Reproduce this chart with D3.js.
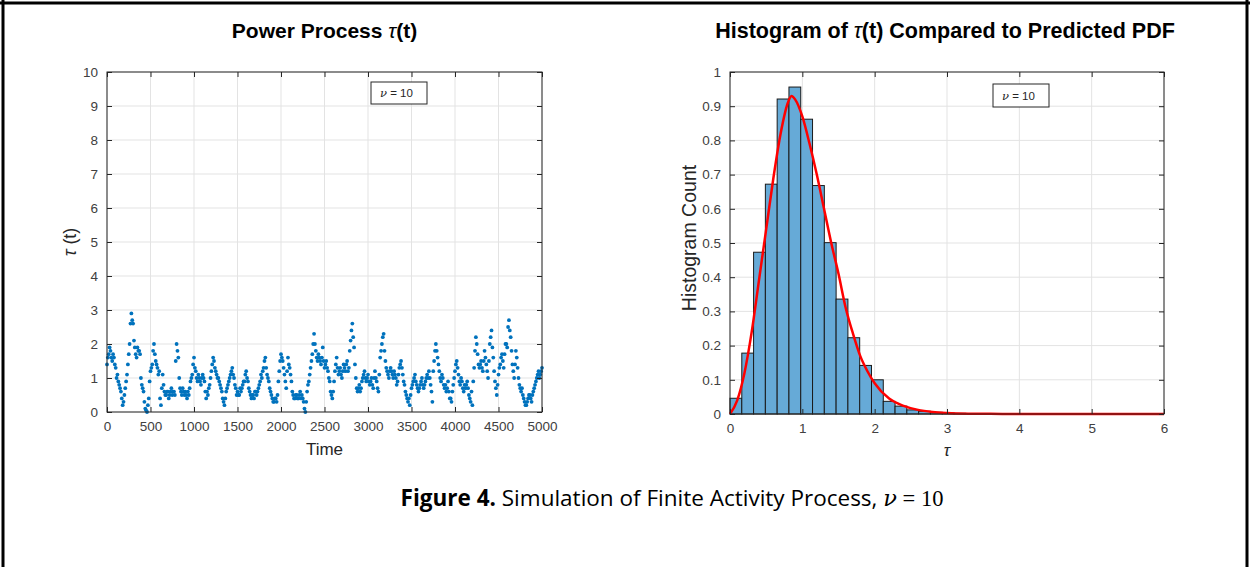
<!DOCTYPE html>
<html>
<head>
<meta charset="utf-8">
<script src="https://cdn.jsdelivr.net/npm/d3@7"></script>
<style>
  body { margin: 0; background: #fff; }
  text { font-family: "Liberation Sans", Arial, sans-serif; }
  .tick text { fill: #404040; font-size: 13.5px; }
  .tick line { stroke: #262626; }
  .domain { stroke: none; }
</style>
</head>
<body>
<script>
// Left panel: simulated power process, read every 20 time steps
var timeStep = 20;
var tauSeries = [
  1.4, 1.7, 1.8, 1.5, 1.6, 1.3, 1.1, 0.8, 0.6, 0.2,
  0.5, 0.9, 1.4, 2.0, 2.9, 2.6, 1.9, 1.6, 1.8, 1.7,
  0.8, 0.6, 0.1, 0.0, 0.4, 1.2, 1.4, 2.0, 1.5, 1.3,
  1.2, 0.2, 1.1, 0.6, 0.5, 0.6, 0.5, 0.7, 0.6, 0.5,
  2.0, 1.6, 0.7, 0.5, 0.6, 0.6, 0.4, 0.5, 0.9, 1.1,
  1.6, 1.2, 0.9, 1.0, 0.8, 1.1, 0.9, 0.4, 0.5, 0.8,
  1.2, 1.6, 1.3, 1.1, 1.0, 0.8, 0.6, 0.3, 0.4, 0.7,
  0.9, 1.1, 1.3, 1.0, 0.7, 0.6, 0.5, 0.6, 0.8, 0.9,
  1.2, 0.9, 0.6, 0.4, 0.5, 0.6, 0.5, 0.7, 0.9, 1.0,
  1.3, 1.6, 1.1, 0.9, 0.6, 0.4, 0.3, 0.4, 0.5, 1.2,
  1.7, 1.5, 1.1, 0.7, 1.6, 1.3, 0.9, 0.5, 0.4, 0.5,
  0.4, 0.6, 0.5, 0.3, 0.0, 0.6, 0.9, 1.3, 1.7, 2.3,
  1.8, 1.5, 1.6, 1.4, 1.9, 1.3, 1.5, 1.2, 0.9, 0.5,
  0.6, 1.2, 1.6, 1.1, 1.3, 1.0, 1.4, 1.2, 1.5, 1.3,
  2.1, 2.6, 1.9, 1.0, 0.6, 0.8, 0.7, 1.0, 1.2, 0.9,
  1.1, 0.8, 1.0, 0.7, 1.2, 0.9, 0.6, 1.6, 2.0, 2.3,
  1.5, 1.2, 1.0, 1.3, 1.1, 1.2, 1.0, 0.9, 1.3, 1.5,
  1.1, 0.8, 0.5, 0.3, 0.2, 0.7, 0.9, 1.1, 0.8, 0.6,
  0.8, 1.0, 0.7, 0.9, 1.1, 1.2, 0.8, 0.3, 1.5, 2.0,
  1.6, 1.2, 0.9, 1.0, 0.7, 0.6, 0.9, 0.4, 0.3, 0.8,
  1.2, 1.5, 1.1, 0.8, 0.9, 0.6, 0.7, 0.9, 0.5, 0.3,
  0.2, 1.3, 2.2, 1.7, 1.3, 1.5, 1.2, 1.8, 1.4, 1.0,
  2.0, 2.4, 1.6, 0.9, 0.5, 1.1, 1.4, 1.7, 1.3, 2.0,
  1.9, 2.7, 2.2, 1.4, 1.0, 1.8, 1.3, 0.8, 0.6, 0.5,
  0.3, 0.2, 0.4, 0.5, 0.3, 0.6, 0.8, 1.0, 1.2, 1.1,
  1.3
];
// readings in between, at t = 10, 30, 50 ...
var tauSeriesMid = [
  1.6, 1.9, 1.6, 1.7, 1.4, 1.0, 0.9, 0.7, 0.4, 0.3,
  0.7, 1.1, 1.7, 2.6, 2.7, 2.1, 1.7, 1.9, 1.8, 1.0,
  0.7, 0.3, 0.05, 0.2, 0.9, 1.3, 1.8, 1.7, 1.4, 1.1,
  0.4, 0.7, 0.8, 0.5, 0.6, 0.4, 0.6, 0.5, 0.6, 1.5,
  1.8, 1.0, 0.6, 0.7, 0.5, 0.5, 0.6, 0.7, 1.0, 1.4,
  1.3, 1.0, 1.1, 0.9, 1.0, 1.0, 0.6, 0.6, 0.7, 1.0,
  1.4, 1.5, 1.2, 1.0, 0.9, 0.7, 0.4, 0.2, 0.6, 0.8,
  1.0, 1.2, 1.1, 0.8, 0.5, 0.5, 0.7, 0.7, 0.9, 1.1,
  1.0, 0.7, 0.5, 0.5, 0.4, 0.6, 0.6, 0.8, 1.1, 1.2,
  1.5, 1.3, 1.0, 0.7, 0.5, 0.3, 0.4, 0.3, 0.9, 1.5,
  1.6, 1.3, 0.9, 1.2, 1.4, 1.1, 0.6, 0.4, 0.5, 0.4,
  0.5, 0.4, 0.4, 0.1, 0.3, 0.8, 1.1, 1.5, 2.0, 2.0,
  1.6, 1.7, 1.5, 1.6, 1.5, 1.4, 1.3, 1.0, 0.6, 0.4,
  0.9, 1.4, 1.3, 1.2, 1.1, 1.2, 1.3, 1.4, 1.2, 1.8,
  2.4, 2.2, 1.4, 0.7, 0.7, 0.6, 0.9, 1.1, 1.0, 1.0,
  0.9, 0.9, 0.8, 1.0, 1.0, 0.7, 1.1, 1.8, 2.2, 1.8,
  1.3, 1.1, 1.2, 1.2, 1.0, 1.1, 0.8, 1.1, 1.4, 1.3,
  0.9, 0.6, 0.4, 0.4, 0.5, 0.8, 1.0, 0.9, 0.7, 0.7,
  0.9, 0.8, 0.8, 1.0, 1.0, 1.0, 0.6, 1.2, 1.8, 1.8,
  1.4, 1.0, 1.1, 0.8, 0.8, 0.7, 0.6, 0.4, 0.6, 1.0,
  1.4, 1.3, 0.9, 1.0, 0.7, 0.8, 0.8, 0.7, 0.4, 0.6,
  0.9, 1.8, 2.0, 1.4, 1.4, 1.3, 1.5, 1.6, 1.2, 1.5,
  2.2, 1.9, 1.2, 0.7, 0.8, 1.3, 1.6, 1.5, 1.7, 2.0,
  2.5, 2.4, 1.8, 1.2, 1.4, 1.6, 1.0, 0.7, 0.7, 0.4,
  0.2, 0.3, 0.5, 0.4, 0.5, 0.7, 0.9, 1.1, 1.0, 1.2
];
var timeTicks = [0, 500, 1000, 1500, 2000, 2500, 3000, 3500, 4000, 4500, 5000];
var tauTicks = [0, 1, 2, 3, 4, 5, 6, 7, 8, 9, 10];

// Right panel: normalised histogram and predicted pdf
var binEdges = [0, 0.163, 0.326, 0.489, 0.652, 0.815, 0.978, 1.141, 1.304, 1.467,
  1.630, 1.793, 1.956, 2.119, 2.282, 2.445, 2.608, 2.771, 2.934, 3.097, 3.26];
var binHeights = [0.046, 0.178, 0.473, 0.672, 0.921, 0.956, 0.862, 0.668, 0.501, 0.336,
  0.223, 0.142, 0.100, 0.037, 0.023, 0.012, 0.008, 0.005, 0.003, 0.002];
var pdfTau = [0, 0.1, 0.2, 0.3, 0.4, 0.5, 0.6, 0.7, 0.8, 0.85, 0.9, 1.0, 1.1, 1.2, 1.3,
  1.4, 1.5, 1.6, 1.7, 1.8, 1.9, 2.0, 2.2, 2.4, 2.6, 2.8, 3.0, 3.3, 3.6, 4, 5, 6];
var pdfValue = [0, 0.04, 0.12, 0.24, 0.39, 0.54, 0.69, 0.82, 0.91, 0.93, 0.92, 0.87, 0.79,
  0.70, 0.60, 0.50, 0.41, 0.31, 0.235, 0.17, 0.125, 0.09, 0.045, 0.024, 0.012, 0.006,
  0.003, 0.001, 0.0004, 0, 0, 0];
var histXTicks = [0, 1, 2, 3, 4, 5, 6];
var histYTicks = [0, 0.1, 0.2, 0.3, 0.4, 0.5, 0.6, 0.7, 0.8, 0.9, 1];

var W = 1250, H = 567;
var svg = d3.select("body").append("svg")
    .attr("width", W)
    .attr("height", H);

svg.append("rect").attr("width", W).attr("height", H).attr("fill", "#fff");

// light grid behind the data
function drawGrid(g, x, y, xt, yt) {
    var x0 = x.range()[0], x1 = x.range()[1];
    var y0 = y.range()[0], y1 = y.range()[1];

    g.append("g").selectAll("line").data(xt).enter().append("line")
        .attr("x1", function (d) { return x(d); })
        .attr("x2", function (d) { return x(d); })
        .attr("y1", y0).attr("y2", y1)
        .attr("stroke", "#e3e3e3");
    g.append("g").selectAll("line").data(yt).enter().append("line")
        .attr("y1", function (d) { return y(d); })
        .attr("y2", function (d) { return y(d); })
        .attr("x1", x0).attr("x2", x1)
        .attr("stroke", "#e3e3e3");
}

// box with inward ticks on all four sides (matlab "box on")
function drawAxes(g, x, y, xt, yt, xfmt, yfmt) {
    var x0 = x.range()[0], x1 = x.range()[1];
    var y0 = y.range()[0], y1 = y.range()[1];

    g.append("g").attr("transform", "translate(0," + y0 + ")")
        .call(d3.axisBottom(x).tickValues(xt).tickFormat(xfmt).tickSizeInner(-5).tickSizeOuter(0).tickPadding(9));
    g.append("g").attr("transform", "translate(0," + y1 + ")")
        .call(d3.axisTop(x).tickValues(xt).tickFormat("").tickSizeInner(-5).tickSizeOuter(0));
    g.append("g").attr("transform", "translate(" + x0 + ",0)")
        .call(d3.axisLeft(y).tickValues(yt).tickFormat(yfmt).tickSizeInner(-5).tickSizeOuter(0).tickPadding(9));
    g.append("g").attr("transform", "translate(" + x1 + ",0)")
        .call(d3.axisRight(y).tickValues(yt).tickFormat("").tickSizeInner(-5).tickSizeOuter(0));

    g.append("rect")
        .attr("x", x0).attr("y", y1)
        .attr("width", x1 - x0).attr("height", y0 - y1)
        .attr("fill", "none")
        .attr("stroke", "#262626");
}

function legendBox(g, bx, by, bw, bh) {
    g.append("rect")
        .attr("x", bx).attr("y", by).attr("width", bw).attr("height", bh)
        .attr("fill", "#fff").attr("stroke", "#262626");
    var t = g.append("text")
        .attr("x", bx + 9).attr("y", by + bh / 2 + 4)
        .style("font-size", "11.5px").attr("fill", "#262626");
    t.append("tspan").style("font-family", "DejaVu Serif").style("font-style", "italic").text("\u03bd");
    t.append("tspan").text(" = 10");
}

// ---- left panel ----
var xL = d3.scaleLinear().domain([0, 5000]).range([107, 542]);
var yL = d3.scaleLinear().domain([0, 10]).range([412, 72]);
var gL = svg.append("g");
drawGrid(gL, xL, yL, timeTicks, tauTicks);

var dots = gL.append("g").attr("fill", "#0072bd");
dots.selectAll("circle.a")
    .data(tauSeries)
    .enter()
    .append("circle")
    .attr("class", "a")
    .attr("cx", function (d, i) { return xL(i * timeStep); })
    .attr("cy", function (d) { return yL(d); })
    .attr("r", 1.9);
dots.selectAll("circle.b")
    .data(tauSeriesMid)
    .enter()
    .append("circle")
    .attr("class", "b")
    .attr("cx", function (d, i) { return xL(i * timeStep + timeStep / 2); })
    .attr("cy", function (d) { return yL(d); })
    .attr("r", 1.9);

drawAxes(gL, xL, yL, timeTicks, tauTicks, d3.format("d"), d3.format("d"));
legendBox(gL, 371, 82, 56, 22);

var titleL = gL.append("text")
    .attr("x", (107 + 542) / 2).attr("y", 38)
    .attr("text-anchor", "middle")
    .style("font-size", "21px").style("font-weight", "bold");
titleL.append("tspan").text("Power Process ");
titleL.append("tspan").style("font-style", "italic").style("font-weight", "normal").text("\u03c4");
titleL.append("tspan").text("(t)");

gL.append("text")
    .attr("x", (107 + 542) / 2).attr("y", 455)
    .attr("text-anchor", "middle")
    .style("font-size", "17px").attr("fill", "#262626")
    .text("Time");

var ylab = gL.append("text")
    .attr("transform", "translate(76,242) rotate(-90)")
    .attr("text-anchor", "middle")
    .style("font-size", "18px").attr("fill", "#262626");
ylab.append("tspan").style("font-style", "italic").text("\u03c4");
ylab.append("tspan").text(" (t)");

// ---- right panel ----
var xR = d3.scaleLinear().domain([0, 6]).range([730, 1164]);
var yR = d3.scaleLinear().domain([0, 1]).range([414, 72]);
var gR = svg.append("g");
drawGrid(gR, xR, yR, histXTicks, histYTicks);

gR.append("g").selectAll("rect")
    .data(binHeights)
    .enter()
    .append("rect")
    .attr("x", function (d, i) { return xR(binEdges[i]); })
    .attr("width", function (d, i) { return xR(binEdges[i + 1]) - xR(binEdges[i]); })
    .attr("y", function (d) { return yR(d); })
    .attr("height", function (d) { return yR(0) - yR(d); })
    .attr("fill", "#66aad7")
    .attr("stroke", "#1a1a1a")
    .attr("stroke-width", 1);

var pdfLine = d3.line()
    .x(function (d) { return xR(d[0]); })
    .y(function (d) { return yR(d[1]); })
    .curve(d3.curveMonotoneX);

gR.append("path")
    .datum(d3.zip(pdfTau, pdfValue))
    .attr("d", pdfLine)
    .attr("fill", "none")
    .attr("stroke", "#ff0000")
    .attr("stroke-width", 2.5);

drawAxes(gR, xR, yR, histXTicks, histYTicks, d3.format("d"), function (d) { return d === 0 || d === 1 ? d : d3.format(".1f")(d); });
legendBox(gR, 993, 84, 56, 23);

var titleR = gR.append("text")
    .attr("x", (730 + 1164) / 2 - 2).attr("y", 38)
    .attr("text-anchor", "middle")
    .style("font-size", "21.5px").style("font-weight", "bold");
titleR.append("tspan").text("Histogram of ");
titleR.append("tspan").style("font-style", "italic").style("font-weight", "normal").text("\u03c4");
titleR.append("tspan").text("(t) Compared to Predicted PDF");

gR.append("text")
    .attr("x", (730 + 1164) / 2).attr("y", 456)
    .attr("text-anchor", "middle")
    .style("font-size", "17px").style("font-style", "italic").attr("fill", "#262626")
    .text("\u03c4");

gR.append("text")
    .attr("transform", "translate(696,238) rotate(-90)")
    .attr("text-anchor", "middle")
    .style("font-size", "19.5px").attr("fill", "#262626")
    .text("Histogram Count");

// ---- caption and page frame ----
var cap = svg.append("text")
    .attr("x", 672).attr("y", 506)
    .attr("text-anchor", "middle")
    .style("font-family", "Open Sans, Lato, sans-serif")
    .style("font-size", "22.5px").attr("fill", "#000");
cap.append("tspan").style("font-weight", "bold").text("Figure 4.");
cap.append("tspan").text(" Simulation of Finite Activity Process, ");
cap.append("tspan").style("font-family", "DejaVu Serif").style("font-style", "italic").text("\u03bd");
cap.append("tspan").style("font-family", "Liberation Serif").text(" = 10");

svg.append("line").attr("x1", 0).attr("x2", W).attr("y1", 3).attr("y2", 3)
    .attr("stroke", "#000").attr("stroke-width", 3);
svg.append("line").attr("x1", 1247).attr("x2", 1247).attr("y1", 0).attr("y2", H)
    .attr("stroke", "#000").attr("stroke-width", 3);
svg.append("line").attr("x1", 3).attr("x2", 3).attr("y1", 0).attr("y2", H)
    .attr("stroke", "#000").attr("stroke-width", 3);
</script>
</body>
</html>
